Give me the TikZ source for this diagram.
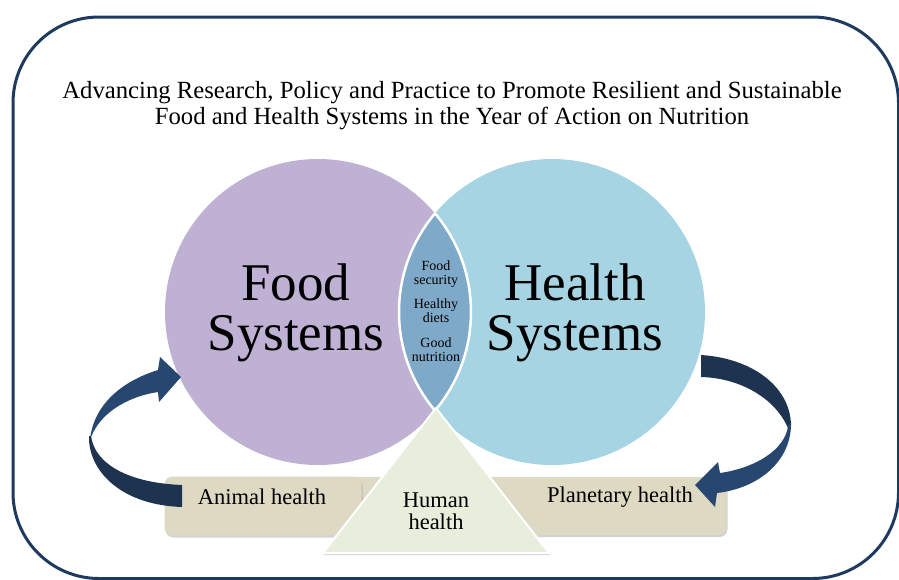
\documentclass[tikz,border=0pt]{standalone}
\usepackage{fontspec}
\setmainfont{Liberation Serif}
\usetikzlibrary{shadows}
\definecolor{navy}{HTML}{1F3A5F}
\definecolor{navylight}{HTML}{284770}
\definecolor{navydark}{HTML}{1E3350}
\definecolor{purp}{HTML}{BFB1D3}
\definecolor{skyb}{HTML}{A6D4E2}
\definecolor{lensc}{HTML}{7FA9C9}
\definecolor{tan}{HTML}{DDD9C3}
\definecolor{trig}{HTML}{E7EFDC}
\tikzset{
  circ/.style={circle, inner sep=0pt, minimum size=306pt},
  tanbox/.style={rectangle, rounded corners=8pt, fill=tan, inner sep=0pt,
    drop shadow={opacity=0.35, shadow xshift=1pt, shadow yshift=-2pt}},
  bigtxt/.style={align=center, font=\fontsize{53}{50}\selectfont},
  boxtxt/.style={align=center, font=\fontsize{22.5}{22}\selectfont},
  smalltxt/.style={align=center, font=\fontsize{14}{14}\selectfont},
}
\begin{document}
\begin{tikzpicture}[x=1pt,y=-1pt]
\useasboundingbox (0,0) rectangle (899,579);
\fill[white] (0,0) rectangle (899,579);
% border
\draw[navy, line width=3pt, rounded corners=86pt] (13,17) rectangle (898.5,578.5);
% title
\node[align=center, font=\fontsize{24.7}{26}\selectfont] (title) at (452,106)
  {Advancing Research, Policy and Practice to Promote Resilient and Sustainable\\
   Food and Health Systems in the Year of Action on Nutrition};
% circles
\node[circ, fill=purp] (food) at (318,312) {};
\node[circ, fill=skyb] (health) at (552,312) {};
\begin{scope}
  \clip (food.center) circle (153pt);
  \fill[lensc] (health.center) circle (153pt);
  \draw[white, line width=2.5pt] (health.center) circle (153pt);
\end{scope}
\begin{scope}
  \clip (health.center) circle (153pt);
  \draw[white, line width=2.5pt] (food.center) circle (153pt);
\end{scope}
\node[bigtxt] (foodtxt) at (296,313) {Food\\Systems};
\node[bigtxt] (healthtxt) at (575,313) {Health\\Systems};
\node[smalltxt] (lenstxt) at (436,311)
  {Food\\security\\[10pt]Healthy\\diets\\[11pt]Good\\nutrition};
% boxes
\node[tanbox, minimum width=195pt, minimum height=58pt] (midbox) at (437,506) {};
\node[tanbox, minimum width=197pt, minimum height=59pt] (animal) at (263,506) {};
\node[tanbox, minimum width=213pt, minimum height=58pt] (planet) at (620,506) {};
\node[boxtxt] (animaltxt) at (262,497) {Animal health};
\node[boxtxt] (planettxt) at (620,497) {Planetary health};
% triangle
\coordinate (apex) at (436,408);
\coordinate (bl) at (323,553);
\coordinate (br) at (549,553);
\draw[white, line width=2pt, fill=trig,
  drop shadow={opacity=0.35, shadow xshift=1pt, shadow yshift=-2pt}]
  (apex) -- (br) -- (bl) -- cycle;
\node[boxtxt] (human) at (436,511) {Human\\health};
% left curved arrow
\fill[navylight] (90,440) .. controls (92,415) and (110,385) .. (158,370)
  -- (160,357) -- (181,377) -- (159,402) -- (158,392)
  .. controls (125,397) and (98,415) .. (90,440) -- cycle;
\fill[navydark] (89,436) .. controls (88,470) and (120,505) .. (182,507)
  -- (182,485) .. controls (130,483) and (95,465) .. (91,436) -- cycle;
% right curved arrow
\fill[navydark] (701,355) .. controls (750,358) and (790,385) .. (791,425)
  -- (788,428) .. controls (775,398) and (740,378) .. (701,377) -- cycle;
\fill[navylight] (791,422) .. controls (792,460) and (760,488) .. (717,493)
  -- (715,507) -- (695,485) -- (718,462) -- (720,473)
  .. controls (755,468) and (785,450) .. (788,426) -- cycle;
\end{tikzpicture}
\end{document}
